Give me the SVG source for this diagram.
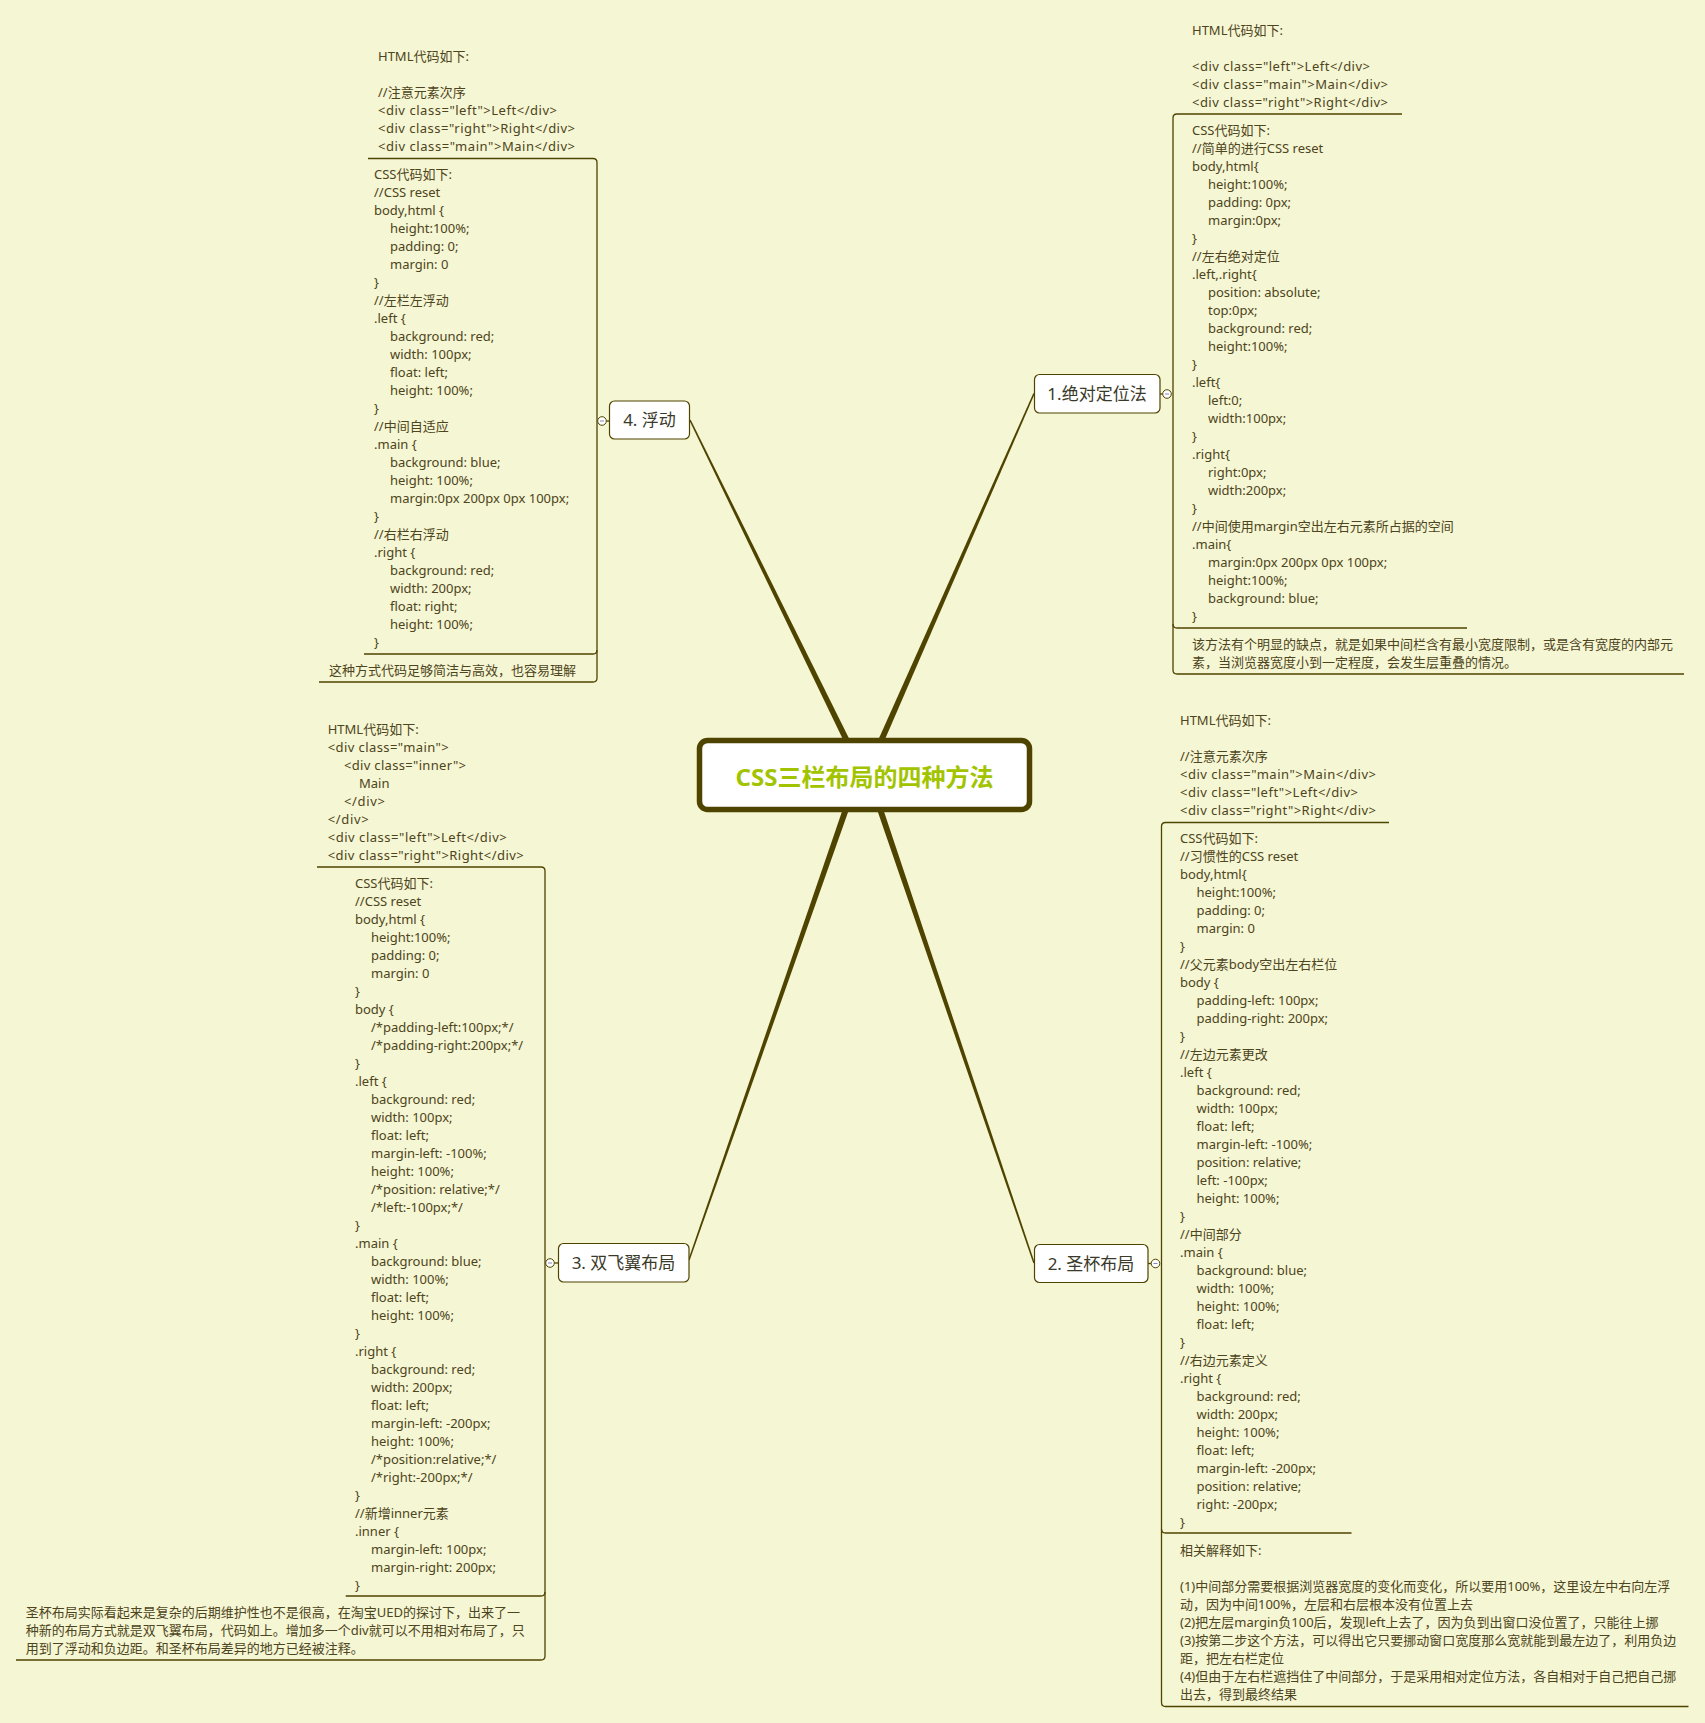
<svg xmlns="http://www.w3.org/2000/svg" width="1705" height="1723" viewBox="0 0 1705 1723">
<style>
.t{font-family:"Noto Sans","Noto Sans CJK SC",sans-serif;font-size:13px;fill:#4d4420}
.lbl{font-family:"Noto Sans","Noto Sans CJK SC",sans-serif;font-size:17px;fill:#3a3a2a;text-anchor:middle}
.box{fill:#ffffff;stroke:#4f4300;stroke-width:1.2}
.frame{fill:none;stroke:#4f4300;stroke-width:1.3}
.col{fill:#ffffff;stroke:#4f4300;stroke-width:1}
.minus{stroke:#7878b8;stroke-width:0.9}
.conn{fill:#4f4300}
</style>
<rect x="0" y="0" width="1705" height="1723" fill="#f5f6d3"/>

<g id="connectors">
<polygon class="conn" points="849.7,739.7 690.7,419.7 689.3,420.3 844.3,742.3"/>
<polygon class="conn" points="883.7,742.2 1034.7,393.8 1033.3,393.2 878.3,739.8"/>
<polygon class="conn" points="848.8,810.0 689.7,1260.2 688.3,1259.8 843.2,808.0"/>
<polygon class="conn" points="882.8,808.0 1034.7,1262.8 1033.3,1263.2 877.2,810.0"/>
<path class="frame" d="M368,158.5 H593 Q597,158.5 597,162.5 V678 Q597,682 593,682 H319"/>
<path class="frame" d="M364,654 H593 Q597,654 597,650"/>
<path class="frame" d="M606.3,421 H609.5"/>
<path class="frame" d="M1402,114 H1177 Q1173,114 1173,118 V670 Q1173,674 1177,674 H1684"/>
<path class="frame" d="M1467,628 H1177 Q1173,628 1173,624"/>
<path class="frame" d="M1160,394 H1162.7"/>
<path class="frame" d="M1389,822.5 H1165.5 Q1161.5,822.5 1161.5,826.5 V1702.5 Q1161.5,1706.5 1165.5,1706.5 H1688.5"/>
<path class="frame" d="M1351.5,1533 H1165.5 Q1161.5,1533 1161.5,1529"/>
<path class="frame" d="M1148,1263.5 H1151.2"/>
<path class="frame" d="M317,867 H541 Q545,867 545,871 V1656 Q545,1660 541,1660 H16"/>
<path class="frame" d="M345.7,1596 H541 Q545,1596 545,1592"/>
<path class="frame" d="M554.3,1263 H558.5"/>
</g>

<g id="center">
<rect x="699.5" y="740.5" width="330" height="69" rx="8" fill="#ffffff" stroke="#4f4300" stroke-width="5.5"/>
<text x="864.5" y="786" text-anchor="middle" font-family="'Noto Sans','Noto Sans CJK SC',sans-serif" font-size="24" font-weight="bold" fill="#a2c400">CSS三栏布局的四种方法</text>
</g>

<g id="node1">
<rect class="box" x="1034.5" y="374.5" width="125.5" height="38.5" rx="5"/>
<text class="lbl" x="1097" y="399.5">1.绝对定位法</text>
<circle class="col" cx="1167" cy="394" r="4.3"/><line class="minus" x1="1165" y1="394" x2="1169" y2="394"/>
<text class="t"><tspan x="1192" y="34.5">HTML代码如下:</tspan><tspan x="1192" y="70.5" textLength="178">&lt;div class="left"&gt;Left&lt;/div&gt;</tspan><tspan x="1192" dy="18" textLength="196">&lt;div class="main"&gt;Main&lt;/div&gt;</tspan><tspan x="1192" dy="18" textLength="196">&lt;div class="right"&gt;Right&lt;/div&gt;</tspan></text>
<text class="t"><tspan x="1192" y="134.5">CSS代码如下:</tspan><tspan x="1192" dy="18">//简单的进行CSS reset</tspan><tspan x="1192" dy="18">body,html{</tspan><tspan x="1208" dy="18">height:100%;</tspan><tspan x="1208" dy="18">padding: 0px;</tspan><tspan x="1208" dy="18">margin:0px;</tspan><tspan x="1192" dy="18">}</tspan><tspan x="1192" dy="18">//左右绝对定位</tspan><tspan x="1192" dy="18">.left,.right{</tspan><tspan x="1208" dy="18">position: absolute;</tspan><tspan x="1208" dy="18">top:0px;</tspan><tspan x="1208" dy="18">background: red;</tspan><tspan x="1208" dy="18">height:100%;</tspan><tspan x="1192" dy="18">}</tspan><tspan x="1192" dy="18">.left{</tspan><tspan x="1208" dy="18">left:0;</tspan><tspan x="1208" dy="18">width:100px;</tspan><tspan x="1192" dy="18">}</tspan><tspan x="1192" dy="18">.right{</tspan><tspan x="1208" dy="18">right:0px;</tspan><tspan x="1208" dy="18">width:200px;</tspan><tspan x="1192" dy="18">}</tspan><tspan x="1192" dy="18">//中间使用margin空出左右元素所占据的空间</tspan><tspan x="1192" dy="18">.main{</tspan><tspan x="1208" dy="18">margin:0px 200px 0px 100px;</tspan><tspan x="1208" dy="18">height:100%;</tspan><tspan x="1208" dy="18">background: blue;</tspan><tspan x="1192" dy="18">}</tspan></text>
<text class="t"><tspan x="1192" y="648.5">该方法有个明显的缺点，就是如果中间栏含有最小宽度限制，或是含有宽度的内部元</tspan><tspan x="1192" dy="18">素，当浏览器宽度小到一定程度，会发生层重叠的情况。</tspan></text>
</g>

<g id="node2">
<rect class="box" x="1034.5" y="1244.5" width="113.5" height="38" rx="5"/>
<text class="lbl" x="1091" y="1269.5">2. 圣杯布局</text>
<circle class="col" cx="1155.5" cy="1263.5" r="4.3"/><line class="minus" x1="1153.5" y1="1263.5" x2="1157.5" y2="1263.5"/>
<text class="t"><tspan x="1180" y="725">HTML代码如下:</tspan><tspan x="1180" y="761">//注意元素次序</tspan><tspan x="1180" dy="18" textLength="196">&lt;div class="main"&gt;Main&lt;/div&gt;</tspan><tspan x="1180" dy="18" textLength="178">&lt;div class="left"&gt;Left&lt;/div&gt;</tspan><tspan x="1180" dy="18" textLength="196">&lt;div class="right"&gt;Right&lt;/div&gt;</tspan></text>
<text class="t"><tspan x="1180" y="843">CSS代码如下:</tspan><tspan x="1180" dy="18">//习惯性的CSS reset</tspan><tspan x="1180" dy="18">body,html{</tspan><tspan x="1196.5" dy="18">height:100%;</tspan><tspan x="1196.5" dy="18">padding: 0;</tspan><tspan x="1196.5" dy="18">margin: 0</tspan><tspan x="1180" dy="18">}</tspan><tspan x="1180" dy="18">//父元素body空出左右栏位</tspan><tspan x="1180" dy="18">body {</tspan><tspan x="1196.5" dy="18">padding-left: 100px;</tspan><tspan x="1196.5" dy="18">padding-right: 200px;</tspan><tspan x="1180" dy="18">}</tspan><tspan x="1180" dy="18">//左边元素更改</tspan><tspan x="1180" dy="18">.left {</tspan><tspan x="1196.5" dy="18">background: red;</tspan><tspan x="1196.5" dy="18">width: 100px;</tspan><tspan x="1196.5" dy="18">float: left;</tspan><tspan x="1196.5" dy="18">margin-left: -100%;</tspan><tspan x="1196.5" dy="18">position: relative;</tspan><tspan x="1196.5" dy="18">left: -100px;</tspan><tspan x="1196.5" dy="18">height: 100%;</tspan><tspan x="1180" dy="18">}</tspan><tspan x="1180" dy="18">//中间部分</tspan><tspan x="1180" dy="18">.main {</tspan><tspan x="1196.5" dy="18">background: blue;</tspan><tspan x="1196.5" dy="18">width: 100%;</tspan><tspan x="1196.5" dy="18">height: 100%;</tspan><tspan x="1196.5" dy="18">float: left;</tspan><tspan x="1180" dy="18">}</tspan><tspan x="1180" dy="18">//右边元素定义</tspan><tspan x="1180" dy="18">.right {</tspan><tspan x="1196.5" dy="18">background: red;</tspan><tspan x="1196.5" dy="18">width: 200px;</tspan><tspan x="1196.5" dy="18">height: 100%;</tspan><tspan x="1196.5" dy="18">float: left;</tspan><tspan x="1196.5" dy="18">margin-left: -200px;</tspan><tspan x="1196.5" dy="18">position: relative;</tspan><tspan x="1196.5" dy="18">right: -200px;</tspan><tspan x="1180" dy="18">}</tspan></text>
<text class="t"><tspan x="1180" y="1554.5">相关解释如下:</tspan><tspan x="1180" y="1590.5">(1)中间部分需要根据浏览器宽度的变化而变化，所以要用100%，这里设左中右向左浮</tspan><tspan x="1180" dy="18">动，因为中间100%，左层和右层根本没有位置上去</tspan><tspan x="1180" dy="18">(2)把左层margin负100后，发现left上去了，因为负到出窗口没位置了，只能往上挪</tspan><tspan x="1180" dy="18">(3)按第二步这个方法，可以得出它只要挪动窗口宽度那么宽就能到最左边了，利用负边</tspan><tspan x="1180" dy="18">距，把左右栏定位</tspan><tspan x="1180" dy="18">(4)但由于左右栏遮挡住了中间部分，于是采用相对定位方法，各自相对于自己把自己挪</tspan><tspan x="1180" dy="18">出去，得到最终结果</tspan></text>
</g>

<g id="node3">
<rect class="box" x="558.5" y="1243.5" width="130.5" height="38.5" rx="5"/>
<text class="lbl" x="623.5" y="1269">3. 双飞翼布局</text>
<circle class="col" cx="550" cy="1263" r="4.3"/><line class="minus" x1="548" y1="1263" x2="552" y2="1263"/>
<text class="t"><tspan x="327.7" y="733.5">HTML代码如下:</tspan><tspan x="327.7" dy="18" textLength="121">&lt;div class="main"&gt;</tspan><tspan x="344" dy="18" textLength="122">&lt;div class="inner"&gt;</tspan><tspan x="359" dy="18">Main</tspan><tspan x="344" dy="18" textLength="41">&lt;/div&gt;</tspan><tspan x="327.7" dy="18" textLength="41">&lt;/div&gt;</tspan><tspan x="327.7" dy="18" textLength="179">&lt;div class="left"&gt;Left&lt;/div&gt;</tspan><tspan x="327.7" dy="18" textLength="196">&lt;div class="right"&gt;Right&lt;/div&gt;</tspan></text>
<text class="t"><tspan x="355" y="887.5">CSS代码如下:</tspan><tspan x="355" dy="18">//CSS reset</tspan><tspan x="355" dy="18">body,html {</tspan><tspan x="371" dy="18">height:100%;</tspan><tspan x="371" dy="18">padding: 0;</tspan><tspan x="371" dy="18">margin: 0</tspan><tspan x="355" dy="18">}</tspan><tspan x="355" dy="18">body {</tspan><tspan x="371" dy="18">/*padding-left:100px;*/</tspan><tspan x="371" dy="18">/*padding-right:200px;*/</tspan><tspan x="355" dy="18">}</tspan><tspan x="355" dy="18">.left {</tspan><tspan x="371" dy="18">background: red;</tspan><tspan x="371" dy="18">width: 100px;</tspan><tspan x="371" dy="18">float: left;</tspan><tspan x="371" dy="18">margin-left: -100%;</tspan><tspan x="371" dy="18">height: 100%;</tspan><tspan x="371" dy="18">/*position: relative;*/</tspan><tspan x="371" dy="18">/*left:-100px;*/</tspan><tspan x="355" dy="18">}</tspan><tspan x="355" dy="18">.main {</tspan><tspan x="371" dy="18">background: blue;</tspan><tspan x="371" dy="18">width: 100%;</tspan><tspan x="371" dy="18">float: left;</tspan><tspan x="371" dy="18">height: 100%;</tspan><tspan x="355" dy="18">}</tspan><tspan x="355" dy="18">.right {</tspan><tspan x="371" dy="18">background: red;</tspan><tspan x="371" dy="18">width: 200px;</tspan><tspan x="371" dy="18">float: left;</tspan><tspan x="371" dy="18">margin-left: -200px;</tspan><tspan x="371" dy="18">height: 100%;</tspan><tspan x="371" dy="18">/*position:relative;*/</tspan><tspan x="371" dy="18">/*right:-200px;*/</tspan><tspan x="355" dy="18">}</tspan><tspan x="355" dy="18">//新增inner元素</tspan><tspan x="355" dy="18">.inner {</tspan><tspan x="371" dy="18">margin-left: 100px;</tspan><tspan x="371" dy="18">margin-right: 200px;</tspan><tspan x="355" dy="18">}</tspan></text>
<text class="t"><tspan x="25.7" y="1617">圣杯布局实际看起来是复杂的后期维护性也不是很高，在淘宝UED的探讨下，出来了一</tspan><tspan x="25.7" dy="18">种新的布局方式就是双飞翼布局，代码如上。增加多一个div就可以不用相对布局了，只</tspan><tspan x="25.7" dy="18">用到了浮动和负边距。和圣杯布局差异的地方已经被注释。</tspan></text>
</g>

<g id="node4">
<rect class="box" x="609.5" y="401" width="80" height="38" rx="5"/>
<text class="lbl" x="649.5" y="426">4. 浮动</text>
<circle class="col" cx="602" cy="421" r="4.3"/><line class="minus" x1="600" y1="421" x2="604" y2="421"/>
<text class="t"><tspan x="378" y="60.5">HTML代码如下:</tspan><tspan x="378" y="96.5">//注意元素次序</tspan><tspan x="378" dy="18" textLength="179">&lt;div class="left"&gt;Left&lt;/div&gt;</tspan><tspan x="378" dy="18" textLength="197">&lt;div class="right"&gt;Right&lt;/div&gt;</tspan><tspan x="378" dy="18" textLength="197">&lt;div class="main"&gt;Main&lt;/div&gt;</tspan></text>
<text class="t"><tspan x="374" y="178.5">CSS代码如下:</tspan><tspan x="374" dy="18">//CSS reset</tspan><tspan x="374" dy="18">body,html {</tspan><tspan x="390" dy="18">height:100%;</tspan><tspan x="390" dy="18">padding: 0;</tspan><tspan x="390" dy="18">margin: 0</tspan><tspan x="374" dy="18">}</tspan><tspan x="374" dy="18">//左栏左浮动</tspan><tspan x="374" dy="18">.left {</tspan><tspan x="390" dy="18">background: red;</tspan><tspan x="390" dy="18">width: 100px;</tspan><tspan x="390" dy="18">float: left;</tspan><tspan x="390" dy="18">height: 100%;</tspan><tspan x="374" dy="18">}</tspan><tspan x="374" dy="18">//中间自适应</tspan><tspan x="374" dy="18">.main {</tspan><tspan x="390" dy="18">background: blue;</tspan><tspan x="390" dy="18">height: 100%;</tspan><tspan x="390" dy="18">margin:0px 200px 0px 100px;</tspan><tspan x="374" dy="18">}</tspan><tspan x="374" dy="18">//右栏右浮动</tspan><tspan x="374" dy="18">.right {</tspan><tspan x="390" dy="18">background: red;</tspan><tspan x="390" dy="18">width: 200px;</tspan><tspan x="390" dy="18">float: right;</tspan><tspan x="390" dy="18">height: 100%;</tspan><tspan x="374" dy="18">}</tspan></text>
<text class="t"><tspan x="329" y="674.5">这种方式代码足够简洁与高效，也容易理解</tspan></text>
</g>
</svg>
